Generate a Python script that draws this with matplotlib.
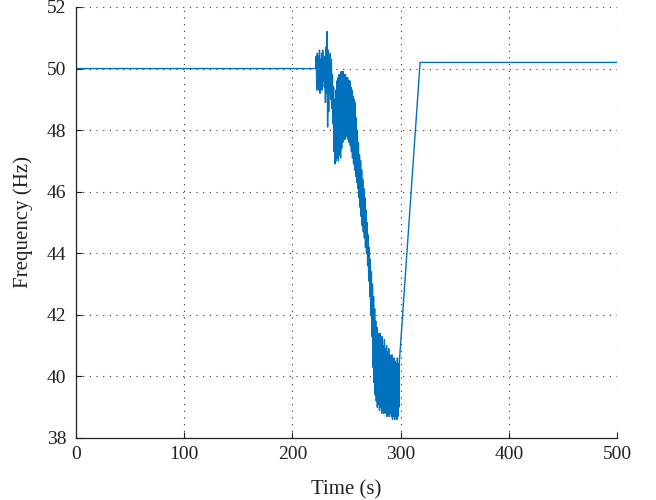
import matplotlib
matplotlib.use("Agg")
import matplotlib.pyplot as plt
import numpy as np

# steady part before the disturbance and after the recovery
t_pre = [0, 221.5]
f_pre = [50.0, 50.0]
t_post = [298.5, 318, 500]
f_post = [40.3, 50.2, 50.2]

# oscillation: upper peaks at whole seconds, lower troughs half a second later
osc_start = 222
f_upper = [50.4, 50.5, 50.4, 50.6, 50.3, 50.5, 50.6, 50.4, 50.2, 50.7,
           51.2, 50.6, 50.4, 50.5, 50.3, 49.8, 49.4, 49.0, 49.3, 49.6,
           49.7, 49.8, 49.8, 49.9, 49.9, 49.9, 49.8, 49.8, 49.7, 49.7,
           49.6, 49.6, 49.4, 49.3, 49.1, 49.0, 48.9, 48.4, 48.0, 47.6,
           47.2, 47.0, 46.7, 46.4, 46.1, 45.8, 45.4, 45.0, 44.6, 44.2,
           43.8, 43.4, 43.0, 42.6, 42.2, 41.8, 41.6, 41.4, 41.3, 41.4,
           41.2, 41.3, 41.0, 41.2, 40.9, 41.0, 40.8, 40.9, 40.7, 40.6,
           40.7, 40.5, 40.6, 40.5, 40.4, 40.6, 40.4]
f_lower = [49.3, 49.4, 49.3, 49.2, 49.5, 49.3, 49.6, 49.4, 48.9, 49.2,
           48.1, 48.6, 49.2, 49.0, 48.7, 48.2, 47.3, 46.9, 47.0, 47.1,
           47.0, 47.2, 47.1, 47.4, 47.6, 47.7, 47.7, 47.8, 47.8, 47.7,
           47.6, 47.5, 47.3, 47.1, 46.9, 46.7, 46.5, 46.3, 46.1, 45.8,
           45.5, 45.2, 44.9, 44.7, 44.5, 44.2, 44.0, 43.6, 43.1, 42.6,
           42.0, 41.3, 40.3, 39.8, 39.4, 39.2, 39.0, 39.1, 38.9, 39.0,
           38.8, 38.9, 38.8, 38.9, 38.8, 38.7, 38.8, 38.7, 38.8, 38.7,
           38.6, 38.7, 38.6, 38.7, 38.6, 38.7, 39.0]

x_ticks = [0, 100, 200, 300, 400, 500]
y_ticks = [38, 40, 42, 44, 46, 48, 50, 52]

t_osc = []
f_osc = []
for i in range(len(f_upper)):
    t_osc += [osc_start + i, osc_start + i + 0.5]
    f_osc += [f_upper[i], f_lower[i]]

t = t_pre + t_osc + t_post
f = f_pre + f_osc + f_post

plt.rcParams['font.family'] = ['Liberation Serif', 'DejaVu Serif']

fig = plt.figure(figsize=(6.56, 5.0), dpi=100)
ax = fig.add_axes([0.116, 0.124, 0.8245, 0.862])
ax.plot(t, f, color='#0072BD', linewidth=1.0)

ax.set_xlim(0, 500)
ax.set_ylim(38, 52)
ax.set_xticks(x_ticks)
ax.set_yticks(y_ticks)
ax.tick_params(direction='in', length=4, width=0.8, labelsize=14, colors='#222222')
ax.tick_params(axis='x', pad=6)
ax.tick_params(axis='y', pad=7)
ax.spines['top'].set_visible(False)
ax.spines['right'].set_visible(False)
for s in ['left', 'bottom']:
    ax.spines[s].set_color('#222222')
    ax.spines[s].set_linewidth(0.9)
ax.grid(True, linestyle=(0, (1, 5)), linewidth=0.8, color='#333333')
ax.set_xlabel('Time (s)', fontsize=15, color='#222222', labelpad=12)
ax.set_ylabel('Frequency (Hz)', fontsize=15, color='#222222', labelpad=10)

fig.savefig('out.png', dpi=100)
